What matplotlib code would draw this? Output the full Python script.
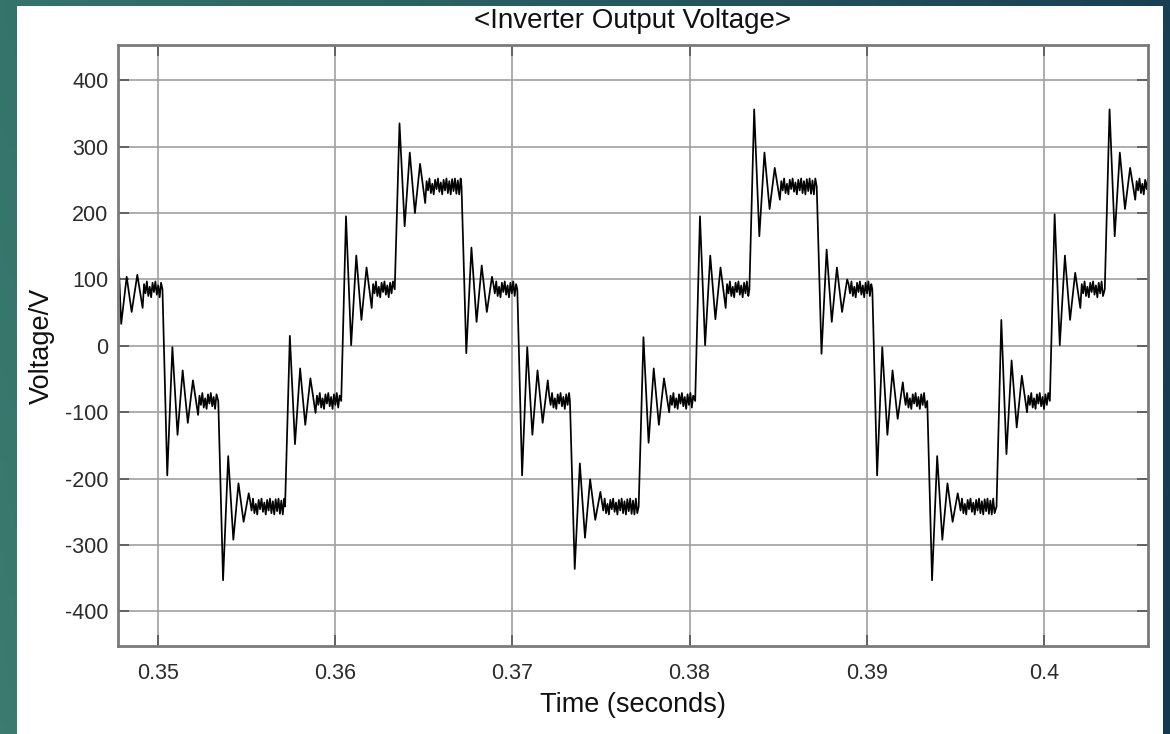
import numpy as np
import matplotlib.pyplot as plt
from matplotlib.patches import Rectangle

plt.rcParams['axes.unicode_minus'] = False

# Scope trace (time in s, voltage in V)
start_level = 85
start_times = [0.34776, 0.34792, 0.34823, 0.34851, 0.34883, 0.34913]
start_peaks = [136, 33, 104, 51, 107, 57]

switch_times = [0.35025, 0.35340, 0.35717, 0.36034, 0.36336, 0.36713, 0.37028, 0.37325,
                0.37713, 0.38032, 0.38338, 0.38718, 0.39032, 0.39342, 0.39733, 0.40034, 0.40344]
step_levels = [-83, -242, -83, 85, 240, 85, -83, -242, -83, 85, 240, 85, -83, -242, -83, 85, 240]

# ringing extrema after each switching edge
ring_peaks = [
    [-195, -2, -134, -37, -116, -52, -104],
    [-353, -166, -292, -207, -265, -222],
    [15, -148, -34, -119, -49, -101],
    [195, 1, 136, 39, 118, 57],
    [335, 180, 291, 200, 274, 215],
    [-11, 148, 36, 121, 51, 104],
    [-195, -2, -134, -37, -116, -52],
    [-336, -177, -289, -201, -262, -220],
    [13, -146, -34, -119, -49, -100],
    [195, 1, 136, 40, 118, 57],
    [356, 165, 291, 206, 268, 220],
    [-12, 145, 36, 118, 51, 100],
    [-195, -2, -134, -37, -110, -55],
    [-353, -166, -292, -207, -265, -222],
    [39, -163, -22, -123, -45, -100],
    [198, 1, 136, 39, 110, 57],
    [356, 165, 291, 206, 268, 220],
]

# small switching ripple riding on each flat level (offset from the level)
ripple = [8, -6, 12, -10, 4, -12, 10, -4, 12, -8, 6, -12, 10, -6, 12, -10, 8, -12, 11, -7,
          12, -11, 9, -12, 12, -10, 11, -12, 12, -11, 12, -12, 11, -12, 12, -12, 12, -11, 12, -12]

x_ticks = [0.35, 0.36, 0.37, 0.38, 0.39, 0.40]
x_tick_labels = ['0.35', '0.36', '0.37', '0.38', '0.39', '0.4']
y_ticks = [-400, -300, -200, -100, 0, 100, 200, 300, 400]

ring_first = 0.00027
ring_dt = 0.00029
ripple_dt = 0.00008
t_end = 0.40588

# ---- build the trace from the values above
t = list(start_times)
v = list(start_peaks)


def add_plateau(t0, t1, level):
    k = 0
    tt = t0 + ripple_dt
    while tt < t1 - 0.00003:
        t.append(tt)
        v.append(level + ripple[k % len(ripple)])
        tt += ripple_dt
        k += 1


add_plateau(start_times[-1], switch_times[0], start_level)
prev = start_level
for i, ts in enumerate(switch_times):
    t.append(ts)
    v.append(prev)
    peaks = ring_peaks[i]
    for k, p in enumerate(peaks):
        t.append(ts + ring_first + k * ring_dt)
        v.append(p)
    t_next = switch_times[i + 1] if i + 1 < len(switch_times) else t_end + 0.0001
    add_plateau(t[-1], t_next, step_levels[i])
    prev = step_levels[i]

# ---- figure
W, H = 1170, 734
fig = plt.figure(figsize=(W / 100, H / 100), dpi=100)

# teal slide background
bg = fig.add_axes([0, 0, 1, 1], zorder=-10)
gx = np.linspace(0, 1, 256)[None, :, None]
gy = np.linspace(0, 1, 64)[:, None, None]
tl = np.array([52, 116, 106]) / 255
tr = np.array([24, 64, 84]) / 255
bl = np.array([58, 124, 112]) / 255
br = np.array([20, 58, 80]) / 255
grad = (1 - gy) * ((1 - gx) * tl + gx * tr) + gy * ((1 - gx) * bl + gx * br)
bg.imshow(grad, aspect='auto', extent=[0, 1, 0, 1])
bg.axis('off')

# white panel
fig.patches.append(Rectangle((17 / W, 0), (1163 - 17) / W, (734 - 6) / H,
                             transform=fig.transFigure, facecolor='white',
                             edgecolor='none', zorder=-5))

ax = fig.add_axes([118 / W, 1 - 646 / H, (1148 - 118) / W, (646 - 45) / H])
ax.set_facecolor('white')
ax.plot(t, v, color='black', lw=1.25)

ax.set_xlim(0.34774, t_end)
ax.set_ylim(-452, 453)
ax.set_xticks(x_ticks)
ax.set_xticklabels(x_tick_labels)
ax.set_yticks(y_ticks)

font = 'Liberation Sans'
ax.grid(True, color='#a0a0a0', lw=1.2)
ax.set_axisbelow(True)
for s in ax.spines.values():
    s.set_color('#7a7a7a')
    s.set_linewidth(2)
ax.tick_params(direction='in', length=8, width=1.2, color='#555555',
               top=True, right=True, labelsize=15.5, labelcolor='#2b2b2b')
ax.tick_params(axis='x', pad=12)
ax.tick_params(axis='y', pad=7)
for lab in ax.get_xticklabels() + ax.get_yticklabels():
    lab.set_fontfamily(font)

ax.set_title('<Inverter Output Voltage>', fontsize=20, fontfamily=font,
             color='#111111', y=1 + (713 - 689) / 601, va='center', pad=0)
ax.set_xlabel('Time (seconds)', fontsize=19.5, fontfamily=font, color='#111111')
ax.xaxis.set_label_coords(0.5, (29 - 88) / 601)
ax.xaxis.label.set_va('center')
ax.set_ylabel('Voltage/V', fontsize=19.5, fontfamily=font, color='#111111')
ax.yaxis.set_label_coords((42 - 118) / 1030, 0.5)
ax.yaxis.label.set_va('center')

fig.savefig('out.png', dpi=100)
